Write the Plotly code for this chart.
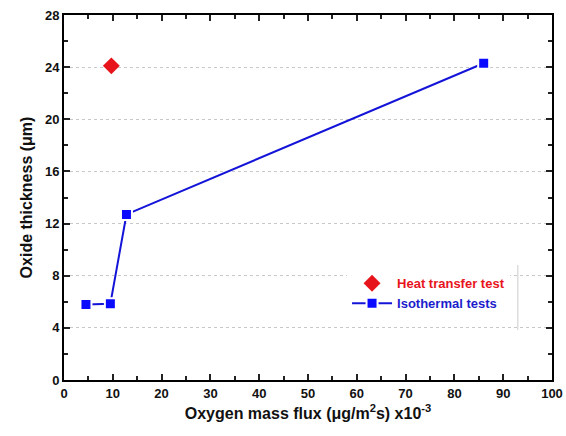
import plotly.graph_objects as go

iso_x = [4.5, 9.5, 12.8, 86.0]
iso_y = [5.8, 5.85, 12.7, 24.3]
heat_x = [9.7]
heat_y = [24.1]

x_ticks = [0, 10, 20, 30, 40, 50, 60, 70, 80, 90, 100]
y_ticks = [0, 4, 8, 12, 16, 20, 24, 28]

fig = go.Figure()
fig.add_trace(go.Scatter(
    x=heat_x, y=heat_y, mode="markers",
    name="<span style='color:#e8141c'>Heat transfer test</span>",
    marker=dict(symbol="diamond", size=13, color="#e8141c"),
))
fig.add_trace(go.Scatter(
    x=iso_x, y=iso_y, mode="lines+markers",
    name="<span style='color:#1c1ccc'>Isothermal tests</span>",
    line=dict(color="#1414d8", width=2),
    marker=dict(symbol="square", size=11, color="#0a0aff",
                line=dict(color="white", width=2)),
))

axis_common = dict(
    showline=True, linecolor="black", linewidth=2, mirror="ticks",
    ticks="inside", ticklen=6, tickwidth=2, tickcolor="#222",
    tickfont=dict(family="Liberation Sans, Arial", size=13, color="#111", weight="bold"),
    zeroline=False, automargin=False,
)
fig.update_xaxes(
    range=[0, 100], tickvals=x_ticks, showgrid=False,
    minor=dict(ticks="inside", ticklen=4, tickwidth=1.5, tickcolor="#222", dtick=5, showgrid=False),
    title=dict(text="<b>Oxygen mass flux (μg/m<sup>2</sup>s) x10<sup>-3</sup></b>",
               font=dict(family="Liberation Sans, Arial", size=16, color="#111"), standoff=8),
    **axis_common,
)
fig.update_yaxes(
    range=[0, 28], tickvals=y_ticks, showgrid=True, gridcolor="#c8c8c8", griddash="dot", gridwidth=1,
    minor=dict(ticks="inside", ticklen=4, tickwidth=1.5, tickcolor="#222", dtick=2, showgrid=False),
    title=dict(text="<b>Oxide thickness (μm)</b>",
               font=dict(family="Liberation Sans, Arial", size=16, color="#111"), standoff=8),
    **axis_common,
)
fig.update_layout(
    width=566, height=436,
    margin=dict(l=64, r=14, t=15, b=56),
    plot_bgcolor="white", paper_bgcolor="white",
    showlegend=True,
    legend=dict(x=0.58, y=0.306, xanchor="left", yanchor="top",
                bgcolor="white", borderwidth=0,
                font=dict(family="Liberation Sans, Arial", size=13, weight="bold"),
                itemwidth=40, tracegroupgap=6),
    font=dict(family="Liberation Sans, Arial"),
)
fig.add_shape(type="line", xref="paper", yref="paper", x0=0.93, x1=0.93, y0=0.137, y1=0.315,
              line=dict(color="#cccccc", width=1))
fig.write_html("out.html")
